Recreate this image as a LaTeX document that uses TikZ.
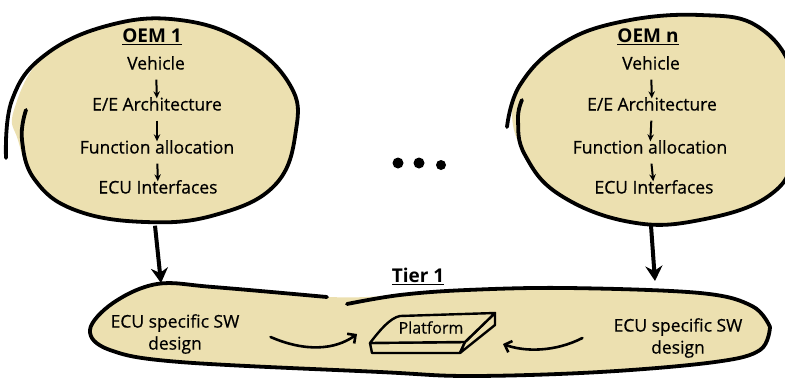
\documentclass[tikz,border=0pt]{standalone}
\usepackage{fontspec}
\setmainfont{Open Sans}
\newfontfamily\handfont[FakeBold=0.6]{Open Sans}
\usetikzlibrary{arrows.meta}
\definecolor{sand}{RGB}{236,224,176}
\begin{document}
\begin{tikzpicture}[x=1pt,y=-1pt,
  blobline/.style={line width=3.8pt, line cap=round, line join=round},
  lbl/.style={font=\handfont\fontsize{17.5}{21}\selectfont, inner sep=1pt, align=center,
              text height=12pt, text depth=3pt},
  ttl/.style={font=\fontsize{19}{22}\selectfont\bfseries, inner sep=1pt},
  stepar/.style={line width=2pt, -{Stealth[length=7pt,width=6.5pt]},
                 shorten <=6pt, shorten >=-1pt},
  feedar/.style={line width=4pt, -{Stealth[length=15pt,width=17pt]}},
  curvar/.style={line width=2.6pt, line cap=round, -{Straight Barb[length=6pt,width=12pt]}},
  slab/.style={fill=sand, draw, line width=2.4pt, line join=round}]
\useasboundingbox (0,0) rectangle (785,383);

\begin{scope}
\clip (0,0) rectangle (785,383);
% left OEM cloud
\fill[sand] plot[smooth cycle, tension=0.7] coordinates
  {(14,110) (45,55) (110,25) (180,20) (245,42) (290,85) (296,130) (275,185)
   (215,215) (145,222) (75,210) (35,180) (18,140)};
\draw[blobline] plot[smooth, tension=0.7] coordinates
  {(6,158) (12,100) (45,55) (110,25) (180,20) (245,42) (290,85) (296,130) (275,185)
   (215,215) (145,222) (75,210) (35,180) (22,140) (26,110)};
% right OEM cloud
\fill[sand] plot[smooth cycle, tension=0.7] coordinates
  {(512,115) (522,83) (560,45) (620,22) (700,15) (760,28) (795,80) (795,150)
   (770,195) (700,220) (630,222) (560,195) (525,155)};
\draw[blobline] plot[smooth, tension=0.7] coordinates
  {(507,127) (520,85) (560,45) (620,22) (700,15) (760,28) (795,80) (795,150)
   (770,195) (700,220) (630,222) (560,195) (525,155) (518,120) (522,100)};
% Tier 1 band
\fill[sand] plot[smooth cycle, tension=0.6] coordinates
  {(90,330) (113,303) (157,284) (220,287) (330,297) (400,295) (470,290)
   (570,288) (700,293) (752,306) (770,327) (760,350) (715,362) (600,372)
   (470,376) (380,372) (180,362) (110,350)};
\draw[blobline] plot[smooth, tension=0.6] coordinates
  {(327,297) (213,287) (157,284) (113,303) (90,330) (110,350) (180,362)
   (380,372) (470,376) (600,372) (715,362) (760,350) (770,327)};
\draw[blobline] plot[smooth, tension=0.6] coordinates
  {(347,304) (400,295) (467,290) (567,288) (700,293) (752,306) (770,327)};
\end{scope}

% OEM 1 steps
\node[ttl] (oemA) at (152,37) {\underline{OEM 1}};
\node[lbl] (vehA) at (156,65) {Vehicle};
\node[lbl] (eeA)  at (157,106) {E/E Architecture};
\node[lbl] (fnA)  at (157,149) {Function allocation};
\node[lbl] (ecuA) at (158,189) {ECU Interfaces};
\draw[stepar] (vehA) -- (eeA);
\draw[stepar] (eeA) -- (fnA);
\draw[stepar] (fnA) -- (ecuA);

% OEM n steps
\node[ttl] (oemB) at (648,37) {\underline{OEM n}};
\node[lbl] (vehB) at (651,65) {Vehicle};
\node[lbl] (eeB)  at (652,106) {E/E Architecture};
\node[lbl] (fnB)  at (650,149) {Function allocation};
\node[lbl] (ecuB) at (654,189) {ECU Interfaces};
\draw[stepar] (vehB) -- (eeB);
\draw[stepar] (eeB) -- (fnB);
\draw[stepar] (fnB) -- (ecuB);

% ellipsis between the OEMs
\fill (398,163) circle (5.5);
\fill (419,163) circle (5.5);
\fill (441,165) circle (5);

% hand-over to the supplier
\coordinate (dropA) at (161,283);
\coordinate (dropB) at (655,281);
\draw[feedar] (ecuA.south) ++(-3,28) -- (dropA);
\draw[feedar] (ecuB.south) ++(-3,28) -- (dropB);

% Tier 1 contents
\node[ttl] (tier) at (418,276) {\underline{Tier 1}};
\node[lbl, text height=, text depth=, font=\handfont\fontsize{17.5}{22}\selectfont] (swA) at (175,334) {ECU specific SW\\design};
\node[lbl, text height=, text depth=, font=\handfont\fontsize{17.5}{22}\selectfont] (swB) at (678,338) {ECU specific SW\\design};

% platform slab
\draw[slab] (370,343) -- (372,353) -- (460,353) -- (465,342) -- cycle;
\draw[slab] (465,342) -- (460,353) -- (495,325) -- (495,313) -- cycle;
\draw[slab] (370,343) .. controls (380,330) and (390,318) .. (400,316) -- (495,313) -- (465,342) -- cycle;
\node[lbl, font=\handfont\fontsize{16}{19}\selectfont] (plat) at (431,329) {Platform};

\coordinate (inA) at (357,334);
\coordinate (inB) at (503,344);
\draw[curvar] (swA.east) ++(30,3) .. controls (305,352) and (335,350) .. (inA);
\draw[curvar] (swB.west) ++(-30,0) .. controls (555,352) and (525,352) .. (inB);
\end{tikzpicture}
\end{document}
